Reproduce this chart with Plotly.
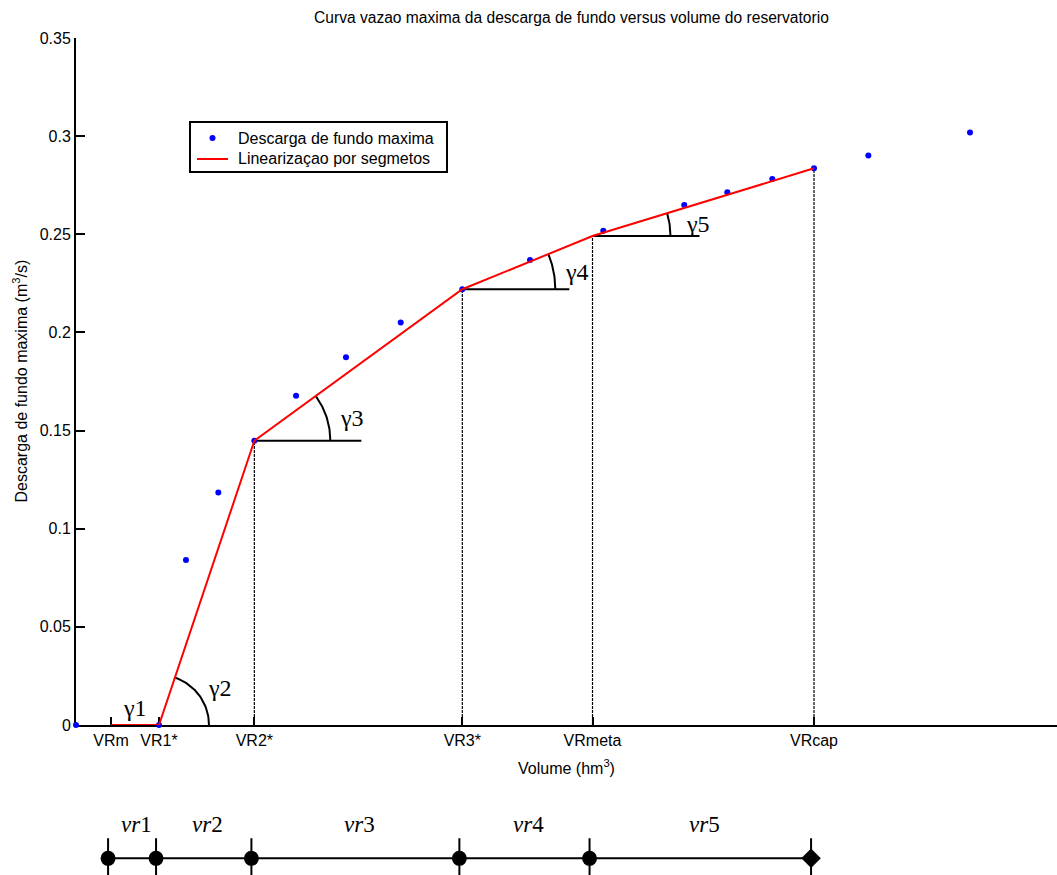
import numpy as np
import plotly.graph_objects as go

# ---------------- data ----------------
chart_title = "Curva vazao maxima da descarga de fundo versus volume do reservatorio"
x_title = "Volume (hm<sup>3</sup>)"
y_title = "Descarga de fundo maxima (m<sup>3</sup>/s)"
series_names = ["Descarga de fundo maxima", "Linearizaçao por segmetos"]

vol_obs = [0, 8.46, 11.21, 14.51, 18.18, 22.43, 27.52, 33.10, 39.38, 46.28,
           53.75, 62.00, 66.39, 70.98, 75.23, 80.77, 91.13]
q_obs = [0, 0, 0.0841, 0.1185, 0.1448, 0.1678, 0.1873, 0.2050, 0.2220, 0.2369,
         0.2518, 0.2649, 0.2714, 0.2782, 0.2836, 0.2902, 0.3019]

bp_names = ["VRm", "VR1*", "VR2*", "VR3*", "VRmeta", "VRcap"]
bp_vol = [3.57, 8.46, 18.18, 39.38, 52.65, 75.23]
bp_q = [0, 0, 0.1448, 0.2220, 0.2491, 0.2836]

gamma_labels = ["γ1", "γ2", "γ3", "γ4", "γ5"]
vr_labels = ["<i>vr</i>1", "<i>vr</i>2", "<i>vr</i>3", "<i>vr</i>4", "<i>vr</i>5"]

y_ticks = [0, 0.05, 0.1, 0.15, 0.2, 0.25, 0.3, 0.35]

# ---------------- layout geometry ----------------
W, H = 1057, 875
ML, MR, MT, MB = 76, 0, 38, 0
X_RANGE = [0, 100]
Y_RANGE = [0, 0.35]
main_bottom_px = 725
plot_h = H - MT - MB
plot_w = W - ML - MR
y_dom_main = [(H - main_bottom_px) / plot_h, 1]
sx = plot_w / (X_RANGE[1] - X_RANGE[0])                   # px per volume unit
sy = (main_bottom_px - MT) / (Y_RANGE[1] - Y_RANGE[0])    # px per flow unit


def px_x(p):
    return (p - ML) / plot_w


def px_y(p):
    return (H - MB - p) / plot_h


SANS = "Liberation Sans, Arial, Helvetica, sans-serif"
SERIF = "Liberation Serif, Times New Roman, serif"

fig = go.Figure()

# dashed verticals from axis to breakpoints
vx, vy = [], []
for v, q in zip(bp_vol, bp_q):
    if q > 0:
        vx += [v, v, None]
        vy += [0, q, None]
fig.add_trace(go.Scatter(x=vx, y=vy, mode="lines", showlegend=False, hoverinfo="skip",
                         line=dict(color="black", width=1.2, dash="3px,1px")))

# horizontal reference lines at gamma3..gamma5 vertices
ref_len_px = 107
hx, hy = [], []
for i in [2, 3, 4]:
    hx += [bp_vol[i], bp_vol[i] + ref_len_px / sx, None]
    hy += [bp_q[i], bp_q[i], None]
fig.add_trace(go.Scatter(x=hx, y=hy, mode="lines", showlegend=False, hoverinfo="skip",
                         line=dict(color="black", width=2)))

# angle arcs
arc_radius_px = [50, 76, 93, 78]
ax_, ay_ = [], []
for k, i in enumerate([1, 2, 3, 4]):
    ang = np.arctan2((bp_q[i + 1] - bp_q[i]) * sy, (bp_vol[i + 1] - bp_vol[i]) * sx)
    t = np.linspace(0, ang, 40)
    r = arc_radius_px[k]
    ax_ += list(bp_vol[i] + r * np.cos(t) / sx) + [None]
    ay_ += list(bp_q[i] + r * np.sin(t) / sy) + [None]
fig.add_trace(go.Scatter(x=ax_, y=ay_, mode="lines", showlegend=False, hoverinfo="skip",
                         line=dict(color="black", width=2)))

# observed points
fig.add_trace(go.Scatter(x=vol_obs, y=q_obs, mode="markers", name=series_names[0],
                         showlegend=False,
                         marker=dict(color="#0000ff", size=6), cliponaxis=False))

# piecewise linearization
fig.add_trace(go.Scatter(x=bp_vol, y=bp_q, mode="lines", name=series_names[1],
                         showlegend=False,
                         line=dict(color="#ff0000", width=2)))

# bottom number line
line_level = [0.166] * len(bp_vol)
fig.add_trace(go.Scatter(
    x=bp_vol, y=line_level, xaxis="x2", yaxis="y2", mode="lines+markers", showlegend=False,
    hoverinfo="skip",
    line=dict(color="black", width=2),
    marker=dict(color="black", size=15,
                symbol=["circle"] * (len(bp_vol) - 1) + ["diamond"]),
    error_y=dict(type="constant", value=0.2, color="black", thickness=2, width=0),
    cliponaxis=False))

annotations = []
# gamma labels (pixel offsets from vertices)
gamma_anchor = [((bp_vol[0] + bp_vol[1]) / 2, 0), (bp_vol[1], bp_q[1]), (bp_vol[2], bp_q[2]),
                (bp_vol[3], bp_q[3]), (bp_vol[4], bp_q[4])]
gamma_shift = [(0, 17), (61, 37), (98, 23), (115, 17), (105, 12)]
for lab, (gx, gy), (dx, dy) in zip(gamma_labels, gamma_anchor, gamma_shift):
    annotations.append(dict(x=gx, y=gy, xref="x", yref="y", text=lab, showarrow=False,
                            xshift=dx, yshift=dy, font=dict(family=SERIF, size=24, color="black")))
# vr labels
for j, lab in enumerate(vr_labels):
    annotations.append(dict(x=(bp_vol[j] + bp_vol[j + 1]) / 2, y=0.5, xref="x2", yref="y2",
                            text=lab, showarrow=False, xshift=4,
                            font=dict(family=SERIF, size=23, color="black")))
# axis titles
annotations.append(dict(x=0.5, xref="paper", y=px_y(767), yref="paper", text=x_title,
                        showarrow=False, xanchor="center", yanchor="middle",
                        font=dict(family=SANS, size=16, color="black")))
annotations.append(dict(x=px_x(20), xref="paper",
                        y=(y_dom_main[0] + y_dom_main[1]) / 2, yref="paper", text=y_title,
                        showarrow=False, textangle=-90, xanchor="center", yanchor="middle",
                        font=dict(family=SANS, size=16, color="black")))
# chart title
annotations.append(dict(x=px_x(571), xref="paper", y=px_y(17), yref="paper",
                        text=chart_title, showarrow=False, xanchor="center", yanchor="middle",
                        font=dict(family=SANS, size=15.6, color="black")))

# legend box (drawn as shapes + text)
leg_box = (190, 122, 447, 172)
leg_rows = (138, 158)
shapes = [
    dict(type="rect", xref="paper", yref="paper", x0=px_x(leg_box[0]), x1=px_x(leg_box[2]),
         y0=px_y(leg_box[3]), y1=px_y(leg_box[1]), line=dict(color="black", width=2),
         fillcolor="white", layer="above"),
    dict(type="circle", xref="paper", yref="paper", x0=px_x(209.5), x1=px_x(215.5),
         y0=px_y(leg_rows[0] + 3), y1=px_y(leg_rows[0] - 3), line=dict(width=0),
         fillcolor="#0000ff", layer="above"),
    dict(type="line", xref="paper", yref="paper", x0=px_x(197), x1=px_x(228),
         y0=px_y(leg_rows[1] + 1), y1=px_y(leg_rows[1] + 1), line=dict(color="#ff0000", width=2),
         layer="above"),
]
for name, row in zip(series_names, leg_rows):
    annotations.append(dict(x=px_x(236), xref="paper", y=px_y(row), yref="paper", text=name,
                            showarrow=False, xanchor="left", yanchor="middle",
                            font=dict(family=SANS, size=16, color="black")))

fig.update_layout(
    width=W, height=H,
    margin=dict(l=ML, r=MR, t=MT, b=MB, pad=0, autoexpand=False),
    paper_bgcolor="white", plot_bgcolor="white",
    font=dict(family=SANS, size=16, color="black"),
    showlegend=False,
    xaxis=dict(domain=[0, 1], anchor="y", range=X_RANGE, showline=True, linecolor="black",
               linewidth=2, mirror=False, showgrid=False, zeroline=False, automargin=False,
               tickmode="array", tickvals=bp_vol, ticktext=bp_names,
               ticks="inside", ticklen=8, tickwidth=2, tickcolor="black",
               tickfont=dict(family=SANS, size=16), layer="below traces"),
    yaxis=dict(domain=y_dom_main, anchor="x", range=Y_RANGE, showline=True, linecolor="black",
               linewidth=2, showgrid=False, zeroline=False, automargin=False,
               tickmode="array", tickvals=y_ticks, ticktext=[f"{t:g}" for t in y_ticks],
               ticks="inside", ticklen=9, tickwidth=2, tickcolor="black",
               tickfont=dict(family=SANS, size=16), layer="below traces"),
    xaxis2=dict(domain=[0, 1], anchor="y2", range=[X_RANGE[0] + 0.3, X_RANGE[1] + 0.3],
                visible=False, automargin=False),
    yaxis2=dict(domain=[0, 0.12], anchor="x2", range=[0, 1], visible=False, automargin=False),
    annotations=annotations,
    shapes=shapes,
)

fig.write_html("out.html", config={"displayModeBar": False},
               post_script="document.body.style.margin='0px';")
